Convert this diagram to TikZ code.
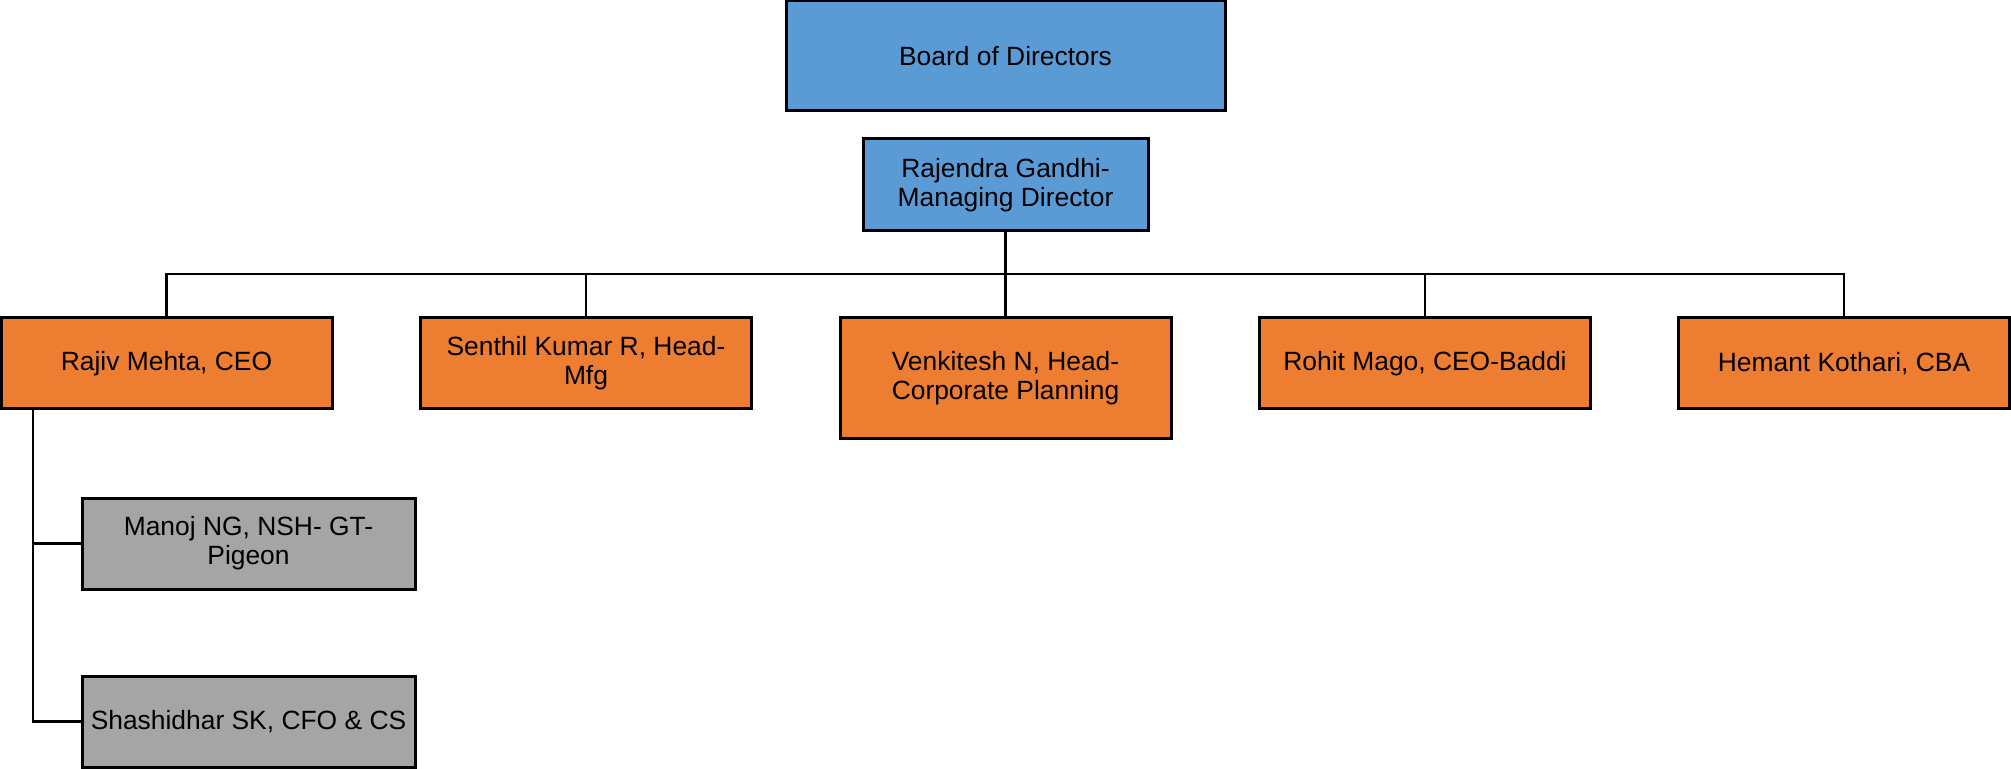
\documentclass[tikz,border=0pt]{standalone}
\usepackage{fontspec}
\setmainfont{Liberation Sans}
\definecolor{bluebox}{HTML}{5B9BD5}
\definecolor{orangebox}{HTML}{ED7D31}
\definecolor{graybox}{HTML}{A5A5A5}
\begin{document}
\begin{tikzpicture}[x=0.5pt,y=-0.5pt,
  box/.style={draw=black,line width=1.5pt,rectangle,inner sep=0pt,align=center,
    font=\fontsize{13.2}{14.6}\selectfont},
  bluefill/.style={box,fill=bluebox},
  orangefill/.style={box,fill=orangebox,minimum width=165.5pt,minimum height=45.5pt},
  grayfill/.style={box,fill=graybox,minimum width=166.5pt,minimum height=45.5pt},
  conn/.style={draw=black,line width=1.2pt}]
\useasboundingbox (0,0) rectangle (2011,769);
\node[bluefill,minimum width=219.5pt,minimum height=55pt] (board) at (1005.5,56) {Board of Directors};
\node[bluefill,minimum width=142.5pt,minimum height=46pt] (md) at (1005.5,185) {Rajendra Gandhi-\\Managing Director};
\node[orangefill] (rajiv) at (166.5,363.5) {Rajiv Mehta, CEO};
\node[orangefill] (senthil) at (586,363.5) {Senthil Kumar R, Head-\\Mfg};
\node[orangefill,minimum height=60.5pt] (venk) at (1005.5,378.5) {Venkitesh N, Head-\\Corporate Planning};
\node[orangefill] (rohit) at (1425,363.5) {Rohit Mago, CEO-Baddi};
\node[orangefill] (hemant) at (1844,363.5) {Hemant Kothari, CBA};
\node[grayfill] (manoj) at (248.5,543.5) {Manoj NG, NSH- GT-\\Pigeon};
\node[grayfill] (shashi) at (248.5,721.5) {Shashidhar SK, CFO \& CS};
\coordinate (bus) at (0,274);
\coordinate (rb) at (33,0);
\draw[conn] (md.south) -- (md.south |- bus);
\draw[conn] (rajiv.north) -- (rajiv.north |- bus) -- (hemant.north |- bus) -- (hemant.north);
\draw[conn] (senthil.north) -- (senthil.north |- bus);
\draw[conn] (venk.north) -- (venk.north |- bus);
\draw[conn] (rohit.north) -- (rohit.north |- bus);
\draw[conn] (rb |- rajiv.south) -- (rb |- shashi.west) -- (shashi.west);
\draw[conn] (rb |- manoj.west) -- (manoj.west);
\end{tikzpicture}
\end{document}
